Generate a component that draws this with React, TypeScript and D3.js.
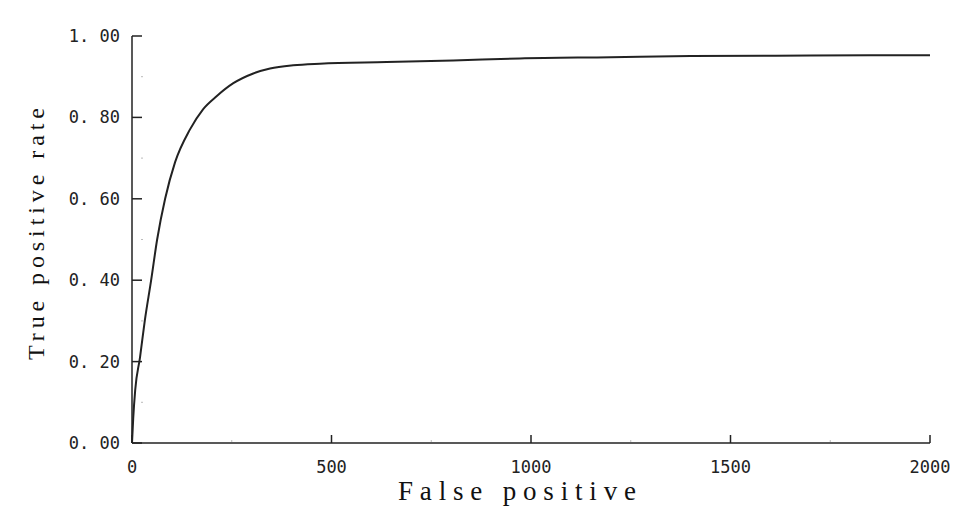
import React from "react";
import * as d3 from "d3";

const falsePositives = [0, 3, 8, 20, 32, 48, 63, 83, 108, 145, 178, 212, 254, 304, 346, 404, 471, 638, 805, 972, 1200, 1400, 1700, 2000];
const truePositiveRate = [0, 0.06, 0.13, 0.21, 0.3, 0.4, 0.5, 0.6, 0.69, 0.77, 0.82, 0.852, 0.884, 0.908, 0.92, 0.928, 0.932, 0.936, 0.94, 0.945, 0.948, 0.951, 0.952, 0.953];
const xTicks = [0, 500, 1000, 1500, 2000];
const xMinorTicks = [250, 750, 1250, 1750];
const yTicks = [0, 0.2, 0.4, 0.6, 0.8, 1.0];
const yMinorTicks = [0.1, 0.3, 0.5, 0.7, 0.9];
const xLabel = "False positive";
const yLabel = "True positive rate";

export default function App() {
  const W = 978, H = 521;
  const x = d3.scaleLinear().domain([0, 2000]).range([132, 930]);
  const y = d3.scaleLinear().domain([0, 1]).range([443, 36]);
  const pts = falsePositives.map((f, i) => [f, truePositiveRate[i]] as [number, number]);
  const line = d3.line<[number, number]>().x(d => x(d[0])).y(d => y(d[1])).curve(d3.curveMonotoneX);
  const tickFont = "'DejaVu Sans Mono', monospace";
  const labelFont = "'Liberation Serif', 'DejaVu Serif', serif";
  return (
    <svg width={W} height={H} style={{ position: "absolute", left: 0, top: 0, background: "#fff" }}>
      <rect x={0} y={0} width={W} height={H} fill="#fff" />
      <line x1={x(0)} x2={x(0)} y1={y(1)} y2={y(0)} stroke="#222" strokeWidth={1.5} />
      <line x1={x(0)} x2={x(2000)} y1={y(0)} y2={y(0)} stroke="#222" strokeWidth={1.5} />
      {yTicks.map(t => (
        <g key={"yt" + t}>
          <line x1={x(0)} x2={x(0) + 10} y1={y(t)} y2={y(t)} stroke="#222" strokeWidth={1.5} />
          <text x={120} y={y(t)} dy="0.35em" textAnchor="end" fontFamily={tickFont} fontSize={17} fill="#222">
            {t.toFixed(2).replace(".", ". ")}
          </text>
        </g>
      ))}
      {yMinorTicks.map(t => (
        <line key={"ym" + t} x1={x(0) + 9} x2={x(0) + 11} y1={y(t)} y2={y(t)} stroke="#bbb" strokeWidth={1} />
      ))}
      {xTicks.map(t => (
        <g key={"xt" + t}>
          <line x1={x(t)} x2={x(t)} y1={y(0)} y2={y(0) - 8} stroke="#222" strokeWidth={1.5} />
          <text x={x(t)} y={473} textAnchor="middle" fontFamily={tickFont} fontSize={17} fill="#222">
            {t}
          </text>
        </g>
      ))}
      {xMinorTicks.map(t => (
        <line key={"xm" + t} x1={x(t)} x2={x(t)} y1={y(0) - 1} y2={y(0) - 3} stroke="#bbb" strokeWidth={1} />
      ))}
      <path d={line(pts) || ""} fill="none" stroke="#222" strokeWidth={2} />
      <text x={398} y={500} textLength={238} lengthAdjust="spacing" fontFamily={labelFont} fontSize={27} fill="#111">
        {xLabel}
      </text>
      <text transform={`translate(44, 360) rotate(-90)`} textLength={252} lengthAdjust="spacing" fontFamily={labelFont} fontSize={24} fill="#111">
        {yLabel}
      </text>
    </svg>
  );
}
